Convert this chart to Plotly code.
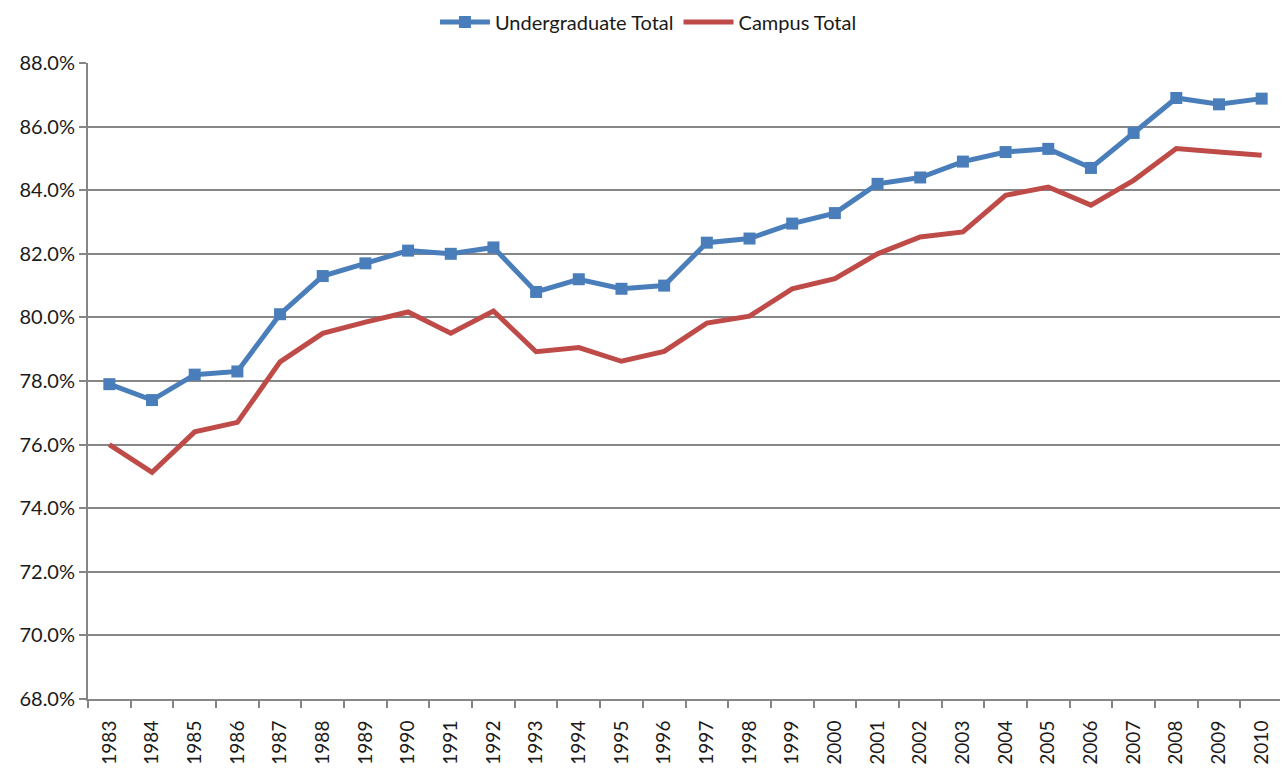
import plotly.graph_objects as go

years = [str(y) for y in range(1983, 2011)]
undergrad_total = [77.9, 77.4, 78.2, 78.3, 80.1, 81.3, 81.7, 82.1, 82.0, 82.2,
                   80.8, 81.2, 80.9, 81.0, 82.35, 82.48, 82.95, 83.28, 84.2, 84.4,
                   84.9, 85.2, 85.3, 84.7, 85.8, 86.9, 86.7, 86.88]
campus_total = [76.0, 75.13, 76.4, 76.7, 78.6, 79.5, 79.85, 80.17, 79.5, 80.2,
                78.92, 79.05, 78.62, 78.93, 79.82, 80.04, 80.9, 81.22, 82.0, 82.53,
                82.69, 83.84, 84.1, 83.53, 84.31, 85.31, 85.2, 85.1]
y_ticks = [68, 70, 72, 74, 76, 78, 80, 82, 84, 86, 88]

font_family = "Lato, Carlito, Calibri, Open Sans, sans-serif"

fig = go.Figure()
fig.add_trace(go.Scatter(
    x=years, y=undergrad_total, name="Undergraduate Total", mode="lines+markers",
    line=dict(color="#4A7EBB", width=5),
    marker=dict(symbol="square", size=12, color="#4A7EBB"),
))
fig.add_trace(go.Scatter(
    x=years, y=campus_total, name="Campus Total", mode="lines",
    line=dict(color="#BE4B48", width=5),
))

fig.update_layout(
    width=1280, height=760,
    paper_bgcolor="white", plot_bgcolor="white",
    margin=dict(l=80, r=5, t=55, b=69, autoexpand=False),
    font=dict(family=font_family, size=19, color="#1a1a1a"),
    showlegend=True,
    legend=dict(orientation="h", x=0.469, xanchor="center", y=1.0645, yanchor="middle",
                font=dict(size=20), itemwidth=50, bgcolor="rgba(0,0,0,0)",
                borderwidth=0),
    xaxis=dict(
        type="category", range=[-0.5, 27.5],
        showline=True, linecolor="#868686", linewidth=2,
        ticks="outside", tickson="boundaries", ticklen=7, tickcolor="#868686", tickwidth=2,
        tickangle=-90, tickfont=dict(size=19), showgrid=False,
        ticklabelstandoff=12,
    ),
    yaxis=dict(
        range=[68, 88], tickvals=y_ticks, ticktext=[f"{v:.1f}%" for v in y_ticks],
        showline=True, linecolor="#868686", linewidth=2,
        ticks="outside", ticklen=7, tickcolor="#868686", tickwidth=2,
        showgrid=True, gridcolor="#868686", gridwidth=2,
        tickfont=dict(size=20), zeroline=False,
    ),
)

fig.write_html("out.html")
